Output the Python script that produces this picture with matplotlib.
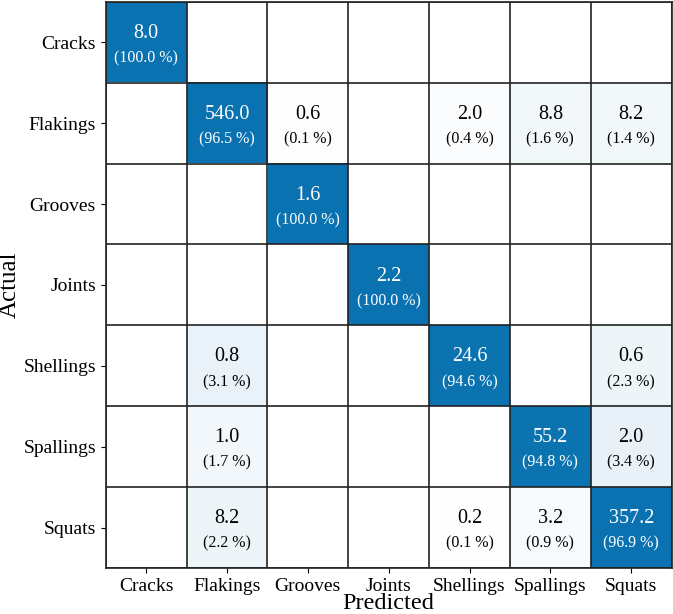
import numpy as np
import matplotlib
matplotlib.use('Agg')
import matplotlib.pyplot as plt
from matplotlib.colors import LinearSegmentedColormap, PowerNorm

plt.rcParams['font.family'] = ['Liberation Serif', 'DejaVu Serif']

classes = ['Cracks', 'Flakings', 'Grooves', 'Joints', 'Shellings', 'Spallings', 'Squats']

# rows = actual, cols = predicted (mean counts)
cracks_row = [8.0, 0, 0, 0, 0, 0, 0]
flakings_row = [0, 546.0, 0.6, 0, 2.0, 8.8, 8.2]
grooves_row = [0, 0, 1.6, 0, 0, 0, 0]
joints_row = [0, 0, 0, 2.2, 0, 0, 0]
shellings_row = [0, 0.8, 0, 0, 24.6, 0, 0.6]
spallings_row = [0, 1.0, 0, 0, 0, 55.2, 2.0]
squats_row = [0, 8.2, 0, 0, 0.2, 3.2, 357.2]

cm = np.array([cracks_row, flakings_row, grooves_row, joints_row,
               shellings_row, spallings_row, squats_row])
pct = cm / cm.sum(axis=1, keepdims=True) * 100

cmap = LinearSegmentedColormap.from_list('wb', ['#ffffff', '#0a72b0'])

fig = plt.figure(figsize=(6.73, 6.14), dpi=100)
ax = fig.add_axes([0.157, 0.075, 0.841, 0.922])

ax.imshow(pct, cmap=cmap, norm=PowerNorm(gamma=0.71, vmin=0, vmax=96), aspect='auto')

n = len(classes)
for i in range(n):
    for j in range(n):
        if cm[i, j] == 0:
            continue
        col = 'white' if pct[i, j] > 50 else 'black'
        ax.text(j, i - 0.11, '%.1f' % cm[i, j], ha='center', va='center',
                fontsize=14.5, color=col)
        ax.text(j, i + 0.2, '(%.1f %%)' % pct[i, j], ha='center', va='center',
                fontsize=11.5, color=col)

# cell borders
for k in range(n + 1):
    ax.axhline(k - 0.5, color='#222222', lw=1.2)
    ax.axvline(k - 0.5, color='#222222', lw=1.2)

ax.set_xticks(range(n))
ax.set_yticks(range(n))
ax.set_xticklabels(classes, fontsize=14)
ax.set_yticklabels(classes, fontsize=14)
ax.set_xlim(-0.5, n - 0.5)
ax.set_ylim(n - 0.5, -0.5)
ax.set_xlabel('Predicted', fontsize=17.5, labelpad=-1)
ax.set_ylabel('Actual', fontsize=18, labelpad=2)
for s in ax.spines.values():
    s.set_linewidth(1.2)
    s.set_color('#222222')

fig.savefig('out.png', dpi=100)
